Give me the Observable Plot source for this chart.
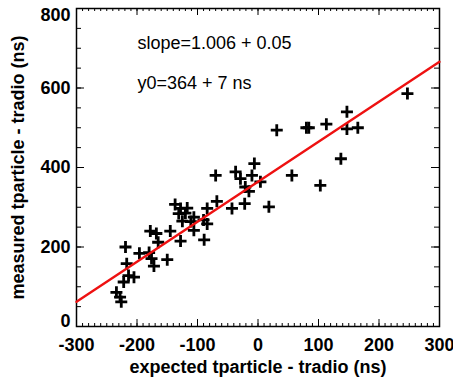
<!DOCTYPE html>
<html>
<head>
<meta charset="utf-8">
<script src="https://cdn.jsdelivr.net/npm/d3@7"></script>
<script src="https://cdn.jsdelivr.net/npm/@observablehq/plot@0.6"></script>
<style>
  html, body { margin: 0; padding: 0; background: white; }
</style>
</head>
<body>
<div id="chart"></div>
<script>
// expected tparticle - tradio (ns)
const expected = [-234, -228, -226, -222, -219, -217, -214, -205, -196, -180,
  -176, -178, -172, -168, -165, -150, -145, -128, -137, -131,
  -128, -120, -125, -117, -111, -106, -106, -90, -84, -89,
  -84, -68, -70, -43, -37, -29, -22, -21, -15, -10,
  -6, 4, 18, 31, 56, 80, 84, 103, 113, 137,
  147, 147, 165, 247];
// measured tparticle - tradio (ns)
const measured = [86, 74, 62, 112, 200, 158, 128, 124, 184, 186,
  171, 240, 152, 234, 212, 168, 240, 215, 307, 284,
  297, 285, 265, 298, 264, 275, 242, 268, 258, 218,
  297, 315, 380, 297, 389, 372, 309, 351, 340, 380,
  410, 364, 301, 494, 380, 500, 500, 355, 509, 422,
  540, 497, 500, 586];
// linear fit
const fitSlope = 1.006;
const fitIntercept = 364;
const fitRange = [-300, 300];
const annotations = ["slope=1.006 + 0.05", "y0=364 + 7 ns"];
const xTickLabels = [-300, -200, -100, 0, 100, 200, 300];
const yTickLabels = [0, 200, 400, 600, 800];
const xMinorStep = 10;
const yMinorStep = 50;

const points = expected.map((x, i) => ({x, y: measured[i]}));
const fitLine = fitRange.map(x => ({x, y: fitIntercept + fitSlope * x}));
const xMinor = d3.range(-300, 300 + 1e-9, xMinorStep);
const yMinor = d3.range(0, 800 + 1e-9, yMinorStep);

const W = 453, H = 383;
const mL = 76, mR = 14, mT = 8, mB = 57;
const iw = W - mL - mR, ih = H - mT - mB;

const cross = {
  draw(context, size) {
    const r = Math.sqrt(size / Math.PI);
    context.moveTo(-r, 0); context.lineTo(r, 0);
    context.moveTo(0, -r); context.lineTo(0, r);
  }
};

const font = "Liberation Sans, Arial, Helvetica, sans-serif";

const chart = Plot.plot({
  width: W,
  height: H,
  marginLeft: mL,
  marginRight: mR,
  marginTop: mT,
  marginBottom: mB,
  x: {domain: [-300, 300], axis: null},
  y: {domain: [0, 800], axis: null},
  style: {fontFamily: font, fontWeight: "bold", fontSize: "18px", background: "white", color: "black", overflow: "visible"},
  marks: [
    // ticks (inward), bottom & top
    Plot.ruleX(xMinor, {x: d => d, insetTop: ih - 3, stroke: "black", strokeWidth: 1}),
    Plot.ruleX(xTickLabels, {x: d => d, insetTop: ih - 7, stroke: "black", strokeWidth: 1}),
    Plot.ruleX(xMinor, {x: d => d, insetBottom: ih - 3, stroke: "black", strokeWidth: 1}),
    Plot.ruleX(xTickLabels, {x: d => d, insetBottom: ih - 7, stroke: "black", strokeWidth: 1}),
    // ticks left & right
    Plot.ruleY(yMinor, {y: d => d, insetRight: iw - 5, stroke: "black", strokeWidth: 1}),
    Plot.ruleY(yTickLabels, {y: d => d, insetRight: iw - 8, stroke: "black", strokeWidth: 1}),
    Plot.ruleY(yMinor, {y: d => d, insetLeft: iw - 5, stroke: "black", strokeWidth: 1}),
    Plot.ruleY(yTickLabels, {y: d => d, insetLeft: iw - 8, stroke: "black", strokeWidth: 1}),
    Plot.frame({stroke: "black", strokeWidth: 1.5}),
    // data
    Plot.dot(points, {x: "x", y: "y", symbol: cross, r: 6, fill: "none", stroke: "black", strokeWidth: 2.8, strokeLinecap: "butt"}),
    Plot.line(fitLine, {x: "x", y: "y", stroke: "#ee1111", strokeWidth: 2.4}),
    // tick labels
    Plot.text(xTickLabels, {x: d => d, frameAnchor: "bottom", dy: 12, lineAnchor: "top", textAnchor: "middle", text: d => String(d), fontSize: 18, fontWeight: "bold", fill: "black"}),
    Plot.text(yTickLabels.filter(d => d > 0 && d < 800), {y: d => d, frameAnchor: "left", dx: -6, textAnchor: "end", lineAnchor: "middle", text: d => String(d), fontSize: 18, fontWeight: "bold", fill: "black"}),
    Plot.text(yTickLabels.filter(d => d === 800), {y: d => d, frameAnchor: "left", dx: -6, textAnchor: "end", lineAnchor: "top", text: d => String(d), fontSize: 18, fontWeight: "bold", fill: "black"}),
    Plot.text(yTickLabels.filter(d => d === 0), {y: d => d, frameAnchor: "left", dx: -6, textAnchor: "end", lineAnchor: "bottom", text: d => String(d), fontSize: 18, fontWeight: "bold", fill: "black"}),
    // axis titles
    Plot.text(["expected tparticle - tradio (ns)"], {frameAnchor: "bottom", dy: 46, lineAnchor: "bottom", textAnchor: "middle", text: d => d, fontSize: 18, fontWeight: "bold", fill: "black"}),
    Plot.text(["measured tparticle - tradio (ns)"], {frameAnchor: "left", dx: -58, rotate: -90, lineAnchor: "middle", textAnchor: "middle", text: d => d, fontSize: 18, fontWeight: "bold", fill: "black"}),
    // annotations
    Plot.text([annotations[0]], {frameAnchor: "top-left", dx: 61, dy: 40, lineAnchor: "bottom", textAnchor: "start", text: d => d, fontSize: 18, fontWeight: "normal", fill: "black"}),
    Plot.text([annotations[1]], {frameAnchor: "top-left", dx: 61, dy: 80, lineAnchor: "bottom", textAnchor: "start", text: d => d, fontSize: 18, fontWeight: "normal", fill: "black"})
  ]
});
document.getElementById("chart").appendChild(chart);
</script>
</body>
</html>
